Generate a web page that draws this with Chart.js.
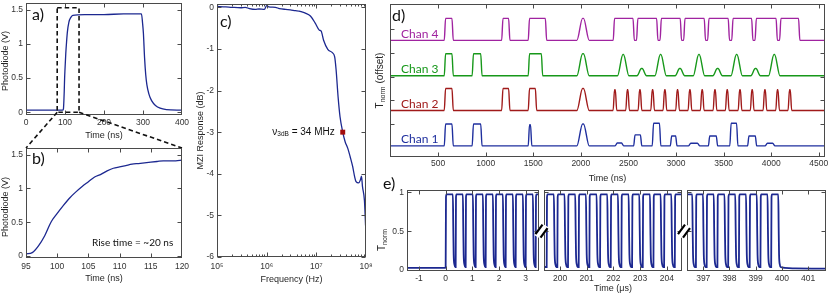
<!DOCTYPE html>
<html lang="en">
<head>
<meta charset="UTF-8">
<title>Photodiode, MZI response and channel traces</title>
<script src="https://cdn.jsdelivr.net/npm/chart.js"></script>
<style>
  body { margin: 0; background: #fff; }
  #fig { position: relative; width: 830px; height: 297px; overflow: hidden; }
  #fig canvas { position: absolute; }
</style>
</head>
<body>
<div id="fig">
  <canvas id="chartA" width="195" height="148" style="left:0;top:0"></canvas>
  <canvas id="chartB" width="195" height="150" style="left:0;top:147px"></canvas>
  <canvas id="chartC" width="180" height="297" style="left:195px;top:0"></canvas>
  <canvas id="chartD" width="455" height="186" style="left:375px;top:0"></canvas>
  <canvas id="chartE1" width="170" height="127" style="left:375px;top:170px"></canvas>
  <canvas id="chartE2" width="155" height="127" style="left:530px;top:170px"></canvas>
  <canvas id="chartE3" width="155" height="127" style="left:675px;top:170px"></canvas>
</div>

<script>
// ---------- data ----------

// a) whole photodiode pulse
const aTime = [0, 50, 94, 96, 97, 98, 99, 100, 102, 104, 106, 110, 115, 120, 150, 200, 250, 290, 296, 299, 301, 304, 307, 310, 315, 322, 332, 344, 360, 400];
const aVolt = [0.03, 0.03, 0.03, 0.05, 0.15, 0.3, 0.5, 0.63, 0.86, 1.03, 1.17, 1.32, 1.39, 1.42, 1.43, 1.43, 1.44, 1.44, 1.44, 1.3, 1.16, 0.8, 0.55, 0.4, 0.27, 0.17, 0.1, 0.06, 0.04, 0.03];
const zoomWindow = [80, 136, 0, 1.53];   // t0, t1, v0, v1 of the dashed box
const aTicksX = [0, 100, 200, 300, 400];
const vTicks = [0, 0.5, 1, 1.5];

// b) rising edge
const bTime = [95, 96, 97, 98, 99, 100, 101, 102, 103, 104, 105, 106, 107, 108, 109, 110, 111, 112, 113, 114, 115, 116, 117, 118, 119, 120];
const bVolt = [0.03, 0.05, 0.15, 0.3, 0.5, 0.63, 0.75, 0.86, 0.95, 1.03, 1.1, 1.17, 1.21, 1.26, 1.3, 1.32, 1.34, 1.36, 1.37, 1.38, 1.39, 1.4, 1.41, 1.41, 1.41, 1.42];
const bTicksX = [95, 100, 105, 110, 115, 120];

// c) MZI response
const cFreq = [1e5, 1.5e5, 2e5, 3e5, 3.7e5, 4.5e5, 5.9e5, 7e5, 9e5, 1e6, 1.1e6, 1.5e6, 1.8e6, 2.4e6, 3e6, 3.8e6, 4.5e6, 5.1e6, 6e6, 7.6e6, 9.5e6,
               1.15e7, 1.25e7, 1.4e7, 1.7e7, 2.1e7, 2.34e7, 2.5e7, 2.74e7, 3.0e7, 3.4e7, 3.8e7, 4.3e7, 4.8e7, 5.4e7, 5.9e7, 6.3e7, 7.1e7, 7.7e7, 8.1e7, 8.5e7, 9.3e7, 9.8e7];
const cdB = [0.02, 0.01, 0.0, -0.01, 0.0, -0.03, -0.05, -0.04, -0.05, 0.04, 0.01, 0.0, -0.03, -0.05, -0.06, -0.08, -0.09, -0.11, -0.14, -0.21, -0.38,
             -0.55, -0.57, -0.79, -1.01, -1.09, -1.19, -1.5, -2.15, -2.63, -3.0, -3.23, -3.39, -3.59, -3.83, -4.07, -4.19, -4.22, -4.15, -4.06, -4.31, -4.64, -5.24];
const c3dB = { f: 3.4e7, db: -3 };
const cTicksX = [1e5, 1e6, 1e7, 1e8];
const cTicksY = [-6, -5, -4, -3, -2, -1, 0];

// d) four channels, pulses as [start, end, height, edge] in ns
const chNames = ['Chan 1', 'Chan 2', 'Chan 3', 'Chan 4'];
const chColors = ['#1f2f9e', '#a01a1a', '#17981a', '#a023a0'];
const chBase = [0.07, 1.57, 3.04, 4.54];
const chAmp = 0.93;
const ch1Pulses = [[565, 660, 1, 14], [858, 962, 1, 14], [1447, 1485, 0.97, 14], [1958, 2088, 1, 60],
  [2360, 2450, 0.13, 22], [2555, 2640, 0.5, 14], [2750, 2840, 1.03, 14], [2940, 3010, 0.45, 14], [3130, 3250, 0.12, 25],
  [3340, 3437, 0.45, 14], [3565, 3650, 1.03, 14], [3752, 3847, 0.45, 14], [3935, 4040, 0.12, 25]];
const ch2Pulses = [[565, 660, 1, 14], [1168, 1255, 1, 14], [1447, 1536, 1, 14], [1958, 2088, 1, 60],
  [2339, 2377, 0.95, 15], [2472, 2510, 0.95, 15], [2602, 2640, 0.95, 15], [2735, 2773, 0.95, 15], [2864, 2902, 0.95, 15],
  [2997, 3035, 0.95, 15], [3127, 3165, 0.95, 15], [3256, 3294, 0.95, 15], [3390, 3428, 0.95, 15], [3519, 3557, 0.95, 15],
  [3653, 3691, 0.95, 15], [3781, 3819, 0.95, 15], [3915, 3953, 0.95, 15], [4048, 4086, 0.95, 15], [4177, 4215, 0.95, 15]];
const ch3Pulses = [[565, 660, 1, 14], [858, 962, 1, 14], [1447, 1599, 1, 14], [1958, 2088, 1, 60],
  [2385, 2505, 0.97, 57], [2590, 2690, 0.33, 46], [2778, 2898, 0.97, 57], [2991, 3091, 0.33, 46], [3181, 3301, 0.97, 57],
  [3387, 3487, 0.33, 46], [3577, 3697, 0.97, 57], [3786, 3886, 0.33, 46], [3972, 4092, 0.97, 57]];
const ch4Pulses = [[565, 660, 1, 14], [1168, 1255, 1, 14], [1447, 1641, 1, 14], [1958, 2088, 1, 60],
  [2340, 2562, 1, 14], [2585, 2810, 1, 14], [2832, 3058, 1, 14], [3080, 3310, 1, 14], [3332, 3562, 1, 14],
  [3585, 3808, 1, 14], [3830, 4065, 1, 14], [4088, 4301, 1, 14]];
const dRange = [-5, 4565];
const dTicksX = [500, 1000, 1500, 2000, 2500, 3000, 3500, 4000, 4500];
const dTicksY = [1, 2, 3, 4, 5];

// e) long pulse train, rising edges in microseconds
const eLow = 0.04, eHigh = 0.975, eHighWidth = 0.27;
const e1Starts = [0, 0.375, 0.75, 1.125, 1.5, 1.875, 2.25, 2.625, 3.0, 3.375];
const e2Starts = [199.5, 199.9, 200.3, 200.7, 201.1, 201.5, 201.9, 202.3, 202.7, 203.1, 203.5, 203.9, 204.3];
const e3Starts = [396.31, 396.72, 397.13, 397.54, 397.95, 398.36, 398.77, 399.18, 399.59];
const e1Lead = [[-1.45, 0.03], [-0.01, 0.03]];
const e3Tail = [[400.1, 0.03], [400.5, 0.022], [401.68, 0.02]];
const eTicks1 = [-1, 0, 1, 2, 3];
const eTicks2 = [200, 201, 202, 203, 204];
const eTicks3 = [397, 398, 399, 400, 401];
const eTicksY = [0, 0.5, 1];

// ---------- helpers ----------
Chart.defaults.font.family = "'Liberation Sans', Arial, sans-serif";
Chart.defaults.font.size = 8.5;
Chart.defaults.color = '#333';
Chart.defaults.animation = false;
Chart.defaults.responsive = false;
Chart.defaults.plugins.legend.display = false;
Chart.defaults.plugins.tooltip.enabled = false;

const navy = '#1c2890';
const pts = (xs, ys) => xs.map((x, i) => ({ x: x, y: ys[i] }));

function pulseTrace(pulses, base) {
  const out = [{ x: dRange[0], y: base }];
  pulses.forEach(([s, e, a, r]) => {
    const top = base + a * chAmp;
    out.push({ x: s, y: base }, { x: s + r, y: top }, { x: e - r, y: top }, { x: e, y: base });
  });
  out.push({ x: dRange[1], y: base });
  return out;
}

function squareTrace(starts, lead, tail) {
  const out = lead.map(([x, y]) => ({ x, y }));
  starts.forEach(s => {
    const f = s + eHighWidth;
    out.push({ x: s, y: eLow }, { x: s + 0.012, y: eHigh - 0.04 }, { x: s + 0.03, y: eHigh }, { x: f, y: eHigh },
             { x: f + 0.015, y: 0.55 }, { x: f + 0.03, y: 0.2 }, { x: f + 0.06, y: 0.07 }, { x: f + 0.09, y: eLow });
  });
  tail.forEach(([x, y]) => out.push({ x, y }));
  return out;
}

function line(data, color, width) {
  return { data: data, borderColor: color, borderWidth: width, pointRadius: 0, fill: false, cubicInterpolationMode: 'monotone' };
}

// box round the plot with inward ticks, like the original
function framePlugin(minorX) {
  return {
    id: 'frame',
    afterDatasetsDraw(chart) {
      const { ctx, chartArea: a } = chart;
      const L = Math.round(a.left) + 0.5, R = Math.round(a.right) - 0.5;
      const T = Math.round(a.top) + 0.5, B = Math.round(a.bottom) - 0.5;
      const xs = chart.scales.x, ys = chart.scales.y;
      ctx.save();
      ctx.strokeStyle = '#4a4a4a';
      ctx.lineWidth = 1;
      ctx.strokeRect(L, T, R - L, B - T);
      ctx.beginPath();
      const xt = (v, len) => {
        const p = Math.round(xs.getPixelForValue(v)) + 0.5;
        if (p < L || p > R) return;
        ctx.moveTo(p, B); ctx.lineTo(p, B - len);
        ctx.moveTo(p, T); ctx.lineTo(p, T + len);
      };
      xs.ticks.forEach(t => xt(t.value, 4));
      minorX.forEach(v => xt(v, 2));
      ys.ticks.forEach(t => {
        const p = Math.round(ys.getPixelForValue(t.value)) + 0.5;
        ctx.moveTo(L, p); ctx.lineTo(L + 4, p);
        ctx.moveTo(R, p); ctx.lineTo(R - 4, p);
      });
      ctx.stroke();
      ctx.restore();
    }
  };
}

function panelLabel(ctx, text, x, y) {
  ctx.save();
  ctx.font = '16px Lato, sans-serif';
  ctx.fillStyle = '#111';
  ctx.textBaseline = 'middle';
  ctx.fillText(text, x, y);
  ctx.restore();
}

// rotated axis title made of [text, size, shift] pieces (for subscripts)
function rotTitle(ctx, x, y, parts) {
  ctx.save();
  ctx.translate(x, y);
  ctx.rotate(-Math.PI / 2);
  ctx.textBaseline = 'middle';
  ctx.fillStyle = '#262626';
  let total = 0;
  const w = parts.map(p => { ctx.font = p[1] + "px 'Liberation Sans'"; const m = ctx.measureText(p[0]).width; total += m; return m; });
  let cx = -total / 2;
  parts.forEach((p, i) => { ctx.font = p[1] + "px 'Liberation Sans'"; ctx.fillText(p[0], cx, p[2]); cx += w[i]; });
  ctx.restore();
}

function breakMark(ctx, cx, cy) {
  ctx.save();
  ctx.translate(cx, cy);
  ctx.fillStyle = '#fff';
  ctx.beginPath();
  ctx.moveTo(-7, 4); ctx.lineTo(0, -8); ctx.lineTo(7, -4); ctx.lineTo(0, 8);
  ctx.closePath();
  ctx.fill();
  ctx.strokeStyle = '#000';
  ctx.lineWidth = 2.2;
  ctx.beginPath();
  ctx.moveTo(-6, 3); ctx.lineTo(1, -6.5);
  ctx.moveTo(-1, 6.5); ctx.lineTo(6, -3);
  ctx.stroke();
  ctx.restore();
}

function panel(id, o) {
  const fit = size => s => {
    if (s.isHorizontal()) s.height = size; else s.width = size;
    s.paddingLeft = s.paddingRight = s.paddingTop = s.paddingBottom = 0;
  };
  const tickSet = list => s => { s.ticks = list.map(v => ({ value: v })); };
  const noGrid = { display: false, drawTicks: false, tickLength: 0 };
  return new Chart(document.getElementById(id), {
    type: 'line',
    data: { datasets: o.datasets },
    options: {
      layout: { padding: o.padding },
      scales: {
        x: {
          type: o.xType || 'linear', min: o.x[0], max: o.x[1],
          grid: noGrid, border: { display: false },
          afterBuildTicks: tickSet(o.xTicks), afterFit: fit(o.xSize),
          ticks: { padding: o.xPad, autoSkip: false, maxRotation: 0, minRotation: 0, callback: o.xFmt || (v => String(v)) },
          title: { display: !!o.xTitle, text: o.xTitle || '', color: '#262626', font: { size: 9 }, padding: { top: 0, bottom: o.xTitlePad || 0 } }
        },
        y: {
          min: o.y[0], max: o.y[1],
          grid: noGrid, border: { display: false },
          afterBuildTicks: tickSet(o.yTicks), afterFit: fit(o.ySize),
          ticks: { display: o.yLabels !== false, padding: 3, autoSkip: false, callback: v => String(v) },
          title: { display: false }
        }
      }
    },
    plugins: [framePlugin(o.minorX || []), {
      id: id + 'Extra',
      afterDraw(chart) {
        const a = chart.chartArea;
        if (o.yTitle) rotTitle(chart.ctx, 6, (a.top + a.bottom) / 2 + (o.yTitleDy || 0), [[o.yTitle, 9, 0]]);
        if (o.extra) o.extra(chart);
      }
    }]
  });
}

// ---------- a) ----------
panel('chartA', {
  datasets: [line(pts(aTime, aVolt), navy, 1.3)],
  padding: { left: 0, right: 13, top: 3, bottom: 0 },
  x: [0, 400], xTicks: aTicksX, xSize: 33, xPad: 3, xTitle: 'Time (ns)', xTitlePad: 7,
  y: [-0.04, 1.6], yTicks: vTicks, ySize: 26, yTitle: 'Photodiode (V)', yTitleDy: 2,
  extra(chart) {
    const { ctx, chartArea: a, scales: { x, y } } = chart;
    const x0 = x.getPixelForValue(zoomWindow[0]), x1 = x.getPixelForValue(zoomWindow[1]);
    const y0 = y.getPixelForValue(zoomWindow[2]), y1 = y.getPixelForValue(zoomWindow[3]);
    ctx.save();
    ctx.strokeStyle = '#111';
    ctx.lineWidth = 1.6;
    ctx.setLineDash([4.5, 3]);
    ctx.strokeRect(x0, y1, x1 - x0, y0 - y1);
    ctx.beginPath();
    ctx.moveTo(x0, y0); ctx.lineTo(a.left, chart.height);
    ctx.moveTo(x1, y0); ctx.lineTo(a.right, chart.height);
    ctx.stroke();
    ctx.restore();
    panelLabel(ctx, 'a)', a.left + 6, a.top + 12);
  }
});

// ---------- b) ----------
panel('chartB', {
  datasets: [line(pts(bTime, bVolt), navy, 1.3)],
  padding: { left: 0, right: 13, top: 1, bottom: 0 },
  x: [95, 120], xTicks: bTicksX, xSize: 39, xPad: 4, xTitle: 'Time (ns)', xTitlePad: 13,
  y: [-0.03, 1.6], yTicks: vTicks, ySize: 26, yTitle: 'Photodiode (V)', yTitleDy: 4,
  extra(chart) {
    const { ctx, chartArea: a } = chart;
    panelLabel(ctx, 'b)', a.left + 6, a.top + 11);
    ctx.save();
    ctx.font = '10px Lato, sans-serif';
    ctx.fillStyle = '#111';
    ctx.textBaseline = 'middle';
    ctx.fillText('Rise time = ~20 ns', a.left + 66, a.bottom - 15);
    ctx.restore();
  }
});

// ---------- c) ----------
const sup = { 5: '\u2075', 6: '\u2076', 7: '\u2077', 8: '\u2078' };
const cMinor = [];
[1e5, 1e6, 1e7].forEach(d => { for (let m = 2; m < 10; m++) cMinor.push(m * d); });
panel('chartC', {
  datasets: [
    { data: [{ x: c3dB.f, y: c3dB.db }], showLine: false, pointStyle: 'rect', pointRadius: 3.5, pointBackgroundColor: '#a30d0d', pointBorderWidth: 0 },
    line(pts(cFreq, cdB), navy, 1.3)
  ],
  padding: { left: 0, right: 9, top: 4, bottom: 0 },
  xType: 'logarithmic', x: [1e5, 1e8], xTicks: cTicksX, xSize: 40, xPad: 5, xTitle: 'Frequency (Hz)', xTitlePad: 12,
  xFmt: v => '10' + sup[Math.round(Math.log10(v))], minorX: cMinor,
  y: [-6, 0.08], yTicks: cTicksY, ySize: 22, yTitle: 'MZI Response (dB)',
  extra(chart) {
    const { ctx, chartArea: a, scales: { x, y } } = chart;
    panelLabel(ctx, 'c)', a.left + 3, a.top + 18);
    const px = x.getPixelForValue(c3dB.f) - 8, py = y.getPixelForValue(c3dB.db);
    const parts = [['\u03bd', 10, 0], ['3dB', 6.5, 2.5], [' = 34 MHz', 10, 0]];
    ctx.save();
    ctx.fillStyle = '#111';
    ctx.textBaseline = 'middle';
    let total = 0;
    const w = parts.map(p => { ctx.font = p[1] + "px 'Liberation Sans'"; const m = ctx.measureText(p[0]).width; total += m; return m; });
    let cx = px - total;
    parts.forEach((p, i) => { ctx.font = p[1] + "px 'Liberation Sans'"; ctx.fillText(p[0], cx, py + p[2]); cx += w[i]; });
    ctx.restore();
  }
});

// ---------- d) ----------
const chPulses = [ch1Pulses, ch2Pulses, ch3Pulses, ch4Pulses];
panel('chartD', {
  datasets: chPulses.map((p, i) => line(pulseTrace(p, chBase[i]), chColors[i], 1.4)),
  padding: { left: 0, right: 5, top: 4, bottom: 0 },
  x: dRange, xTicks: dTicksX, xSize: 29, xPad: 2, xTitle: 'Time (ns)', xTitlePad: 2,
  y: [-0.4, 6.08], yTicks: dTicksY, ySize: 15, yLabels: false,
  extra(chart) {
    const { ctx, chartArea: a, scales: { y } } = chart;
    panelLabel(ctx, 'd)', a.left + 2, a.top + 12);
    ctx.save();
    ctx.font = '12px Lato, sans-serif';
    ctx.textBaseline = 'middle';
    chNames.forEach((n, i) => {
      ctx.fillStyle = chColors[i];
      ctx.fillText(n, a.left + 11, y.getPixelForValue(chBase[i]) - 6.5);
    });
    ctx.restore();
    rotTitle(ctx, 5, (a.top + a.bottom) / 2, [['T', 10, 0], ['norm', 7, 3], [' (offset)', 10, 0]]);
  }
});

// ---------- e) ----------
panel('chartE1', {
  datasets: [line(squareTrace(e1Starts, e1Lead, []), navy, 1.8)],
  padding: { left: 0, right: 6, top: 20, bottom: 0 },
  x: [-1.45, 3.5], xTicks: eTicks1, xSize: 26.5, xPad: 3,
  y: [-0.005, 1.03], yTicks: eTicksY, ySize: 32,
  extra(chart) {
    const { ctx } = chart;
    panelLabel(ctx, 'e)', 8, 14);
    rotTitle(ctx, 7, 70, [['T', 10, 0], ['norm', 7, 3]]);
  }
});
panel('chartE2', {
  datasets: [line(squareTrace(e2Starts, [[199.4, eLow]], []), navy, 1.8)],
  padding: { left: 0, right: 3, top: 20, bottom: 0 },
  x: [199.4, 204.57], xTicks: eTicks2, xSize: 26.5, xPad: 3, xTitle: 'Time (\u03bcs)', xTitlePad: 3,
  y: [-0.005, 1.03], yTicks: eTicksY, ySize: 14, yLabels: false,
  extra(chart) {
    const { ctx, chartArea: a, scales: { y } } = chart;
    breakMark(ctx, a.left - 2.5, y.getPixelForValue(0.5));
  }
});
panel('chartE3', {
  datasets: [line(squareTrace(e3Starts, [], e3Tail), navy, 1.8)],
  padding: { left: 0, right: 4, top: 20, bottom: 0 },
  x: [396.38, 401.68], xTicks: eTicks3, xSize: 26.5, xPad: 3,
  y: [-0.005, 1.03], yTicks: eTicksY, ySize: 12, yLabels: false,
  extra(chart) {
    const { ctx, chartArea: a, scales: { y } } = chart;
    breakMark(ctx, a.left - 3, y.getPixelForValue(0.5));
  }
});
</script>
</body>
</html>
